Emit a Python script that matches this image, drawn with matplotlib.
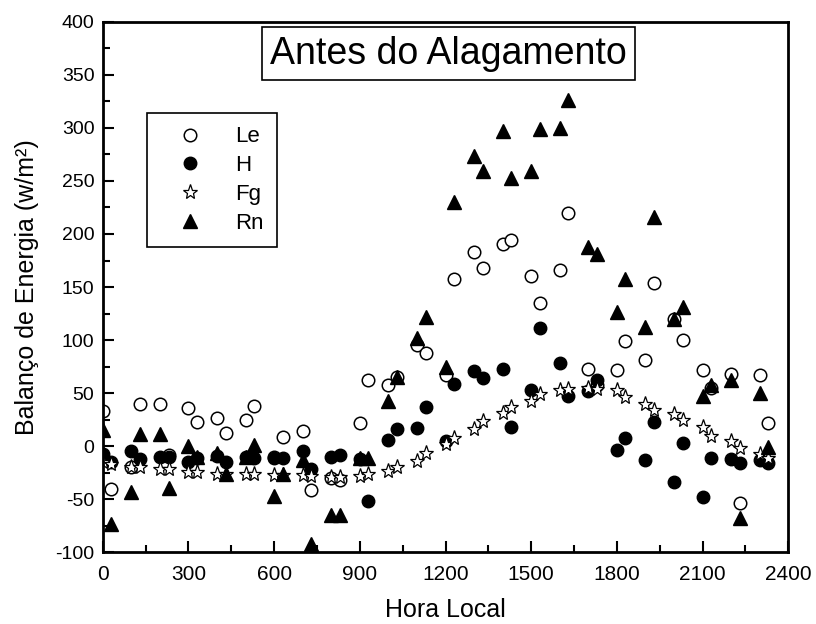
import numpy as np
import matplotlib
matplotlib.use('Agg')
import matplotlib.pyplot as plt
from matplotlib.ticker import MultipleLocator

plt.rcParams['font.family'] = ['Liberation Sans', 'DejaVu Sans']
plt.rcParams['axes.unicode_minus'] = False

# hora local (HHMM)
hora = [0, 30, 100, 130, 200, 230, 300, 330, 400, 430, 500, 530,
        600, 630, 700, 730, 800, 830, 900, 930, 1000, 1030, 1100, 1130,
        1200, 1230, 1300, 1330, 1400, 1430, 1500, 1530, 1600, 1630, 1700, 1730,
        1800, 1830, 1900, 1930, 2000, 2030, 2100, 2130, 2200, 2230, 2300, 2330]

le = [33, -40, -20, 40, 40, -8, 36, 23, 27, 12, 25, 38,
      -10, 9, 14, -41, -30, -32, 22, 62, 58, 65, 95, 88,
      67, 158, 183, 168, 191, 194, 160, 135, 166, 220, 73, 58,
      72, 99, 81, 154, 120, 100, 72, 55, 68, -54, 67, 22]

h = [-7, -15, -5, -12, -10, -10, -15, -11, -9, -15, -10, -11,
     -11, -11, -5, -22, -10, -8, -12, -52, 6, 16, 17, 37,
     5, 59, 71, 64, 73, 18, 53, 111, 78, 47, 52, 62,
     -4, 8, -13, 23, -34, 3, -48, -11, -12, -16, -13, -16]

fg = [-15, -17, -20, -20, -22, -22, -24, -24, -26, -26, -26, -26,
      -27, -27, -27, -28, -29, -29, -28, -26, -23, -20, -14, -6,
      2, 8, 16, 24, 31, 37, 43, 49, 53, 54, 55, 54,
      53, 46, 40, 34, 30, 25, 18, 10, 5, -2, -7, -11]

rn = [15, -73, -43, 11, 11, -39, 0, -10, -6, -26, -10, 1,
      -47, -26, -13, -92, -65, -65, -11, -11, 43, 65, 102, 122,
      75, 230, 274, 259, 297, 253, 259, 299, 300, 326, 188, 181,
      126, 158, 112, 216, 120, 131, 47, 58, 62, -68, 50, -1]

fig = plt.figure(figsize=(8.16, 6.24), dpi=100)
ax = fig.add_axes([0.126, 0.115, 0.840, 0.850])

ax.plot(hora, le, linestyle='none', marker='o', markersize=9,
        markerfacecolor='white', markeredgecolor='black', markeredgewidth=1.1, label='Le')
ax.plot(hora, h, linestyle='none', marker='o', markersize=9,
        color='black', label='H')
ax.plot(hora, fg, linestyle='none', marker='*', markersize=11,
        markerfacecolor='white', markeredgecolor='black', markeredgewidth=0.9, label='Fg')
ax.plot(hora, rn, linestyle='none', marker='^', markersize=10.5,
        color='black', label='Rn')

ax.set_xlim(0, 2400)
ax.set_ylim(-100, 400)
ax.xaxis.set_major_locator(MultipleLocator(300))
ax.xaxis.set_minor_locator(MultipleLocator(150))
ax.yaxis.set_major_locator(MultipleLocator(50))
ax.yaxis.set_minor_locator(MultipleLocator(25))
ax.tick_params(which='both', direction='in', width=1.5, top=False, right=False)
ax.tick_params(which='major', length=8, labelsize=14, pad=6)
ax.tick_params(axis='x', which='major', pad=9)
ax.tick_params(which='minor', length=5)
for lbl in ax.get_xticklabels():
    lbl.set_family(['Liberation Sans Narrow', 'Liberation Sans'])
    lbl.set_fontsize(15)
for sp in ax.spines.values():
    sp.set_linewidth(2)

ax.set_xlabel('Hora Local', fontsize=18, labelpad=10)
ax.set_ylabel('Balanço de Energia (w/m²)', fontsize=18, labelpad=12)

ax.text(0.504, 0.94, 'Antes do Alagamento', transform=ax.transAxes,
        ha='center', va='center', fontsize=27,
        bbox=dict(boxstyle='square,pad=0.22', facecolor='white', edgecolor='black', linewidth=1.2))

leg = ax.legend(loc='upper left', bbox_to_anchor=(0.064, 0.828), fontsize=16,
                fancybox=False, edgecolor='black', framealpha=1, borderaxespad=0,
                handletextpad=0.7, borderpad=0.6, labelspacing=0.35, handlelength=2.7)
leg.get_frame().set_linewidth(1.2)

fig.savefig('out.png', dpi=100)
